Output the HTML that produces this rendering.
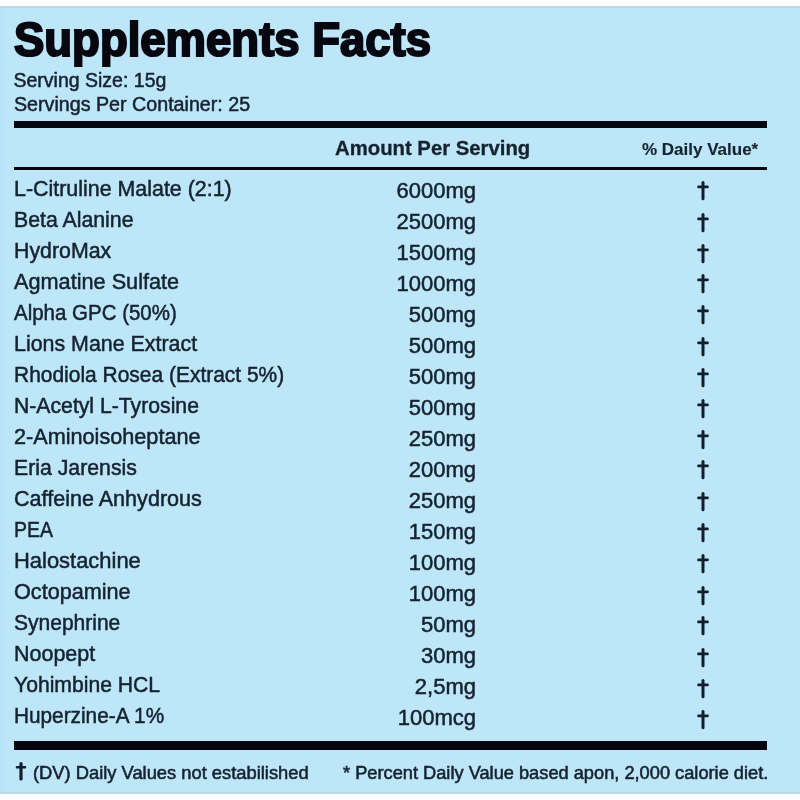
<!DOCTYPE html>
<html><head><meta charset="utf-8"><style>
html,body{margin:0;padding:0;}
body{width:800px;height:800px;position:relative;overflow:hidden;background:#fff;font-family:"Liberation Sans",sans-serif;}
#bg{position:absolute;left:0;top:6px;width:800px;height:788px;background:#bde6f9;}
#lb{position:absolute;left:0;top:6px;width:9px;height:788px;background:linear-gradient(to right,#b7e2f8,#bde6f9);}
#tl{position:absolute;left:0;top:5.5px;width:800px;height:2px;background:#b9dde8;}
#bl{position:absolute;left:0;top:792px;width:800px;height:2px;background:#b9dde8;}
#wrap{position:absolute;left:0;top:0;width:800px;height:800px;filter:blur(0.4px);}
.t{position:absolute;white-space:nowrap;line-height:1;transform-origin:0 0;}
.bar{position:absolute;background:#05050f;}
.dg{position:absolute;}
</style></head><body>
<div id="bg"></div><div id="lb"></div><div id="tl"></div><div id="bl"></div><div id="wrap">
<div class="t" style="left:14.00px;top:15.67px;font-size:48px;font-weight:700;color:#07070f;transform:scaleX(0.9476);-webkit-text-stroke:2.2px #07070f;">Supplements Facts</div>
<div class="t" style="left:13.50px;top:71.49px;font-size:19.5px;font-weight:400;color:#15222f;transform:scaleX(1.0000);-webkit-text-stroke:0.5px #15222f;">Serving Size: 15g</div>
<div class="t" style="left:13.50px;top:95.49px;font-size:19.5px;font-weight:400;color:#15222f;transform:scaleX(1.0086);-webkit-text-stroke:0.5px #15222f;">Servings Per Container: 25</div>
<div class="t" style="left:334.50px;top:138.07px;font-size:20px;font-weight:700;color:#15222f;transform:scaleX(1.0157);-webkit-text-stroke:0.3px #15222f;">Amount Per Serving</div>
<div class="t" style="left:642.00px;top:140.61px;font-size:17px;font-weight:700;color:#15222f;transform:scaleX(1.0000);-webkit-text-stroke:0.15px #15222f;">% Daily Value*</div>
<div class="t" style="left:13.50px;top:178.18px;font-size:22px;font-weight:400;color:#15222f;transform:scaleX(0.9731);-webkit-text-stroke:0.5px #15222f;">L-Citruline Malate (2:1)</div>
<div class="t" style="right:324.00px;top:179.78px;font-size:22px;font-weight:400;color:#15222f;transform-origin:100% 0;transform:scaleX(1.0000);-webkit-text-stroke:0.5px #15222f;">6000mg</div>
<div class="t" style="left:13.50px;top:209.18px;font-size:22px;font-weight:400;color:#15222f;transform:scaleX(0.9674);-webkit-text-stroke:0.5px #15222f;">Beta Alanine</div>
<div class="t" style="right:324.00px;top:210.78px;font-size:22px;font-weight:400;color:#15222f;transform-origin:100% 0;transform:scaleX(1.0000);-webkit-text-stroke:0.5px #15222f;">2500mg</div>
<div class="t" style="left:13.50px;top:240.18px;font-size:22px;font-weight:400;color:#15222f;transform:scaleX(0.9701);-webkit-text-stroke:0.5px #15222f;">HydroMax</div>
<div class="t" style="right:324.00px;top:241.78px;font-size:22px;font-weight:400;color:#15222f;transform-origin:100% 0;transform:scaleX(1.0000);-webkit-text-stroke:0.5px #15222f;">1500mg</div>
<div class="t" style="left:13.50px;top:271.18px;font-size:22px;font-weight:400;color:#15222f;transform:scaleX(0.9856);-webkit-text-stroke:0.5px #15222f;">Agmatine Sulfate</div>
<div class="t" style="right:324.00px;top:272.78px;font-size:22px;font-weight:400;color:#15222f;transform-origin:100% 0;transform:scaleX(1.0000);-webkit-text-stroke:0.5px #15222f;">1000mg</div>
<div class="t" style="left:13.50px;top:302.18px;font-size:22px;font-weight:400;color:#15222f;transform:scaleX(0.9309);-webkit-text-stroke:0.5px #15222f;">Alpha GPC (50%)</div>
<div class="t" style="right:324.00px;top:303.78px;font-size:22px;font-weight:400;color:#15222f;transform-origin:100% 0;transform:scaleX(1.0000);-webkit-text-stroke:0.5px #15222f;">500mg</div>
<div class="t" style="left:13.50px;top:333.18px;font-size:22px;font-weight:400;color:#15222f;transform:scaleX(0.9724);-webkit-text-stroke:0.5px #15222f;">Lions Mane Extract</div>
<div class="t" style="right:324.00px;top:334.78px;font-size:22px;font-weight:400;color:#15222f;transform-origin:100% 0;transform:scaleX(1.0000);-webkit-text-stroke:0.5px #15222f;">500mg</div>
<div class="t" style="left:13.50px;top:364.18px;font-size:22px;font-weight:400;color:#15222f;transform:scaleX(0.9526);-webkit-text-stroke:0.5px #15222f;">Rhodiola Rosea (Extract 5%)</div>
<div class="t" style="right:324.00px;top:365.78px;font-size:22px;font-weight:400;color:#15222f;transform-origin:100% 0;transform:scaleX(1.0000);-webkit-text-stroke:0.5px #15222f;">500mg</div>
<div class="t" style="left:13.50px;top:395.18px;font-size:22px;font-weight:400;color:#15222f;transform:scaleX(0.9634);-webkit-text-stroke:0.5px #15222f;">N-Acetyl L-Tyrosine</div>
<div class="t" style="right:324.00px;top:396.78px;font-size:22px;font-weight:400;color:#15222f;transform-origin:100% 0;transform:scaleX(1.0000);-webkit-text-stroke:0.5px #15222f;">500mg</div>
<div class="t" style="left:13.50px;top:426.18px;font-size:22px;font-weight:400;color:#15222f;transform:scaleX(0.9841);-webkit-text-stroke:0.5px #15222f;">2-Aminoisoheptane</div>
<div class="t" style="right:324.00px;top:427.78px;font-size:22px;font-weight:400;color:#15222f;transform-origin:100% 0;transform:scaleX(1.0000);-webkit-text-stroke:0.5px #15222f;">250mg</div>
<div class="t" style="left:13.50px;top:457.18px;font-size:22px;font-weight:400;color:#15222f;transform:scaleX(0.9669);-webkit-text-stroke:0.5px #15222f;">Eria Jarensis</div>
<div class="t" style="right:324.00px;top:458.78px;font-size:22px;font-weight:400;color:#15222f;transform-origin:100% 0;transform:scaleX(1.0000);-webkit-text-stroke:0.5px #15222f;">200mg</div>
<div class="t" style="left:13.50px;top:488.18px;font-size:22px;font-weight:400;color:#15222f;transform:scaleX(0.9802);-webkit-text-stroke:0.5px #15222f;">Caffeine Anhydrous</div>
<div class="t" style="right:324.00px;top:489.78px;font-size:22px;font-weight:400;color:#15222f;transform-origin:100% 0;transform:scaleX(1.0000);-webkit-text-stroke:0.5px #15222f;">250mg</div>
<div class="t" style="left:13.50px;top:519.18px;font-size:22px;font-weight:400;color:#15222f;transform:scaleX(0.8837);-webkit-text-stroke:0.5px #15222f;">PEA</div>
<div class="t" style="right:324.00px;top:520.78px;font-size:22px;font-weight:400;color:#15222f;transform-origin:100% 0;transform:scaleX(1.0000);-webkit-text-stroke:0.5px #15222f;">150mg</div>
<div class="t" style="left:13.50px;top:550.18px;font-size:22px;font-weight:400;color:#15222f;transform:scaleX(0.9969);-webkit-text-stroke:0.5px #15222f;">Halostachine</div>
<div class="t" style="right:324.00px;top:551.78px;font-size:22px;font-weight:400;color:#15222f;transform-origin:100% 0;transform:scaleX(1.0000);-webkit-text-stroke:0.5px #15222f;">100mg</div>
<div class="t" style="left:13.50px;top:581.18px;font-size:22px;font-weight:400;color:#15222f;transform:scaleX(0.9831);-webkit-text-stroke:0.5px #15222f;">Octopamine</div>
<div class="t" style="right:324.00px;top:582.78px;font-size:22px;font-weight:400;color:#15222f;transform-origin:100% 0;transform:scaleX(1.0000);-webkit-text-stroke:0.5px #15222f;">100mg</div>
<div class="t" style="left:13.50px;top:612.18px;font-size:22px;font-weight:400;color:#15222f;transform:scaleX(0.9548);-webkit-text-stroke:0.5px #15222f;">Synephrine</div>
<div class="t" style="right:324.00px;top:613.78px;font-size:22px;font-weight:400;color:#15222f;transform-origin:100% 0;transform:scaleX(1.0000);-webkit-text-stroke:0.5px #15222f;">50mg</div>
<div class="t" style="left:13.50px;top:643.18px;font-size:22px;font-weight:400;color:#15222f;transform:scaleX(0.9765);-webkit-text-stroke:0.5px #15222f;">Noopept</div>
<div class="t" style="right:324.00px;top:644.78px;font-size:22px;font-weight:400;color:#15222f;transform-origin:100% 0;transform:scaleX(1.0000);-webkit-text-stroke:0.5px #15222f;">30mg</div>
<div class="t" style="left:13.50px;top:674.18px;font-size:22px;font-weight:400;color:#15222f;transform:scaleX(0.9604);-webkit-text-stroke:0.5px #15222f;">Yohimbine HCL</div>
<div class="t" style="right:324.00px;top:675.78px;font-size:22px;font-weight:400;color:#15222f;transform-origin:100% 0;transform:scaleX(1.0000);-webkit-text-stroke:0.5px #15222f;">2,5mg</div>
<div class="t" style="left:13.50px;top:705.18px;font-size:22px;font-weight:400;color:#15222f;transform:scaleX(0.9445);-webkit-text-stroke:0.5px #15222f;">Huperzine-A 1%</div>
<div class="t" style="right:324.00px;top:706.78px;font-size:22px;font-weight:400;color:#15222f;transform-origin:100% 0;transform:scaleX(1.0000);-webkit-text-stroke:0.5px #15222f;">100mcg</div>
<div class="t" style="left:33.00px;top:763.59px;font-size:18.2px;font-weight:400;color:#15222f;transform:scaleX(1.0074);-webkit-text-stroke:0.55px #15222f;">(DV) Daily Values not estabilished</div>
<div class="t" style="left:343.00px;top:763.59px;font-size:18.2px;font-weight:400;color:#15222f;transform:scaleX(1.0024);-webkit-text-stroke:0.55px #15222f;">* Percent Daily Value based apon, 2,000 calorie diet.</div>
<div class="bar" style="left:14px;top:121px;width:753px;height:7px"></div>
<div class="bar" style="left:14px;top:166.5px;width:753px;height:3.5px"></div>
<div class="bar" style="left:14px;top:741px;width:753px;height:9px"></div>
<svg class="dg" style="left:695px;top:180.4px" width="16" height="21.2" viewBox="0 0 16 21.2"><rect x="6.5" y="1" width="3.0" height="19.2" rx="1.5" fill="#121e2b"/><rect x="2.25" y="5.5" width="11.5" height="2.7" rx="1" fill="#121e2b"/></svg>
<svg class="dg" style="left:695px;top:211.5px" width="16" height="21.2" viewBox="0 0 16 21.2"><rect x="6.5" y="1" width="3.0" height="19.2" rx="1.5" fill="#121e2b"/><rect x="2.25" y="5.5" width="11.5" height="2.7" rx="1" fill="#121e2b"/></svg>
<svg class="dg" style="left:695px;top:242.75px" width="16" height="21.2" viewBox="0 0 16 21.2"><rect x="6.5" y="1" width="3.0" height="19.2" rx="1.5" fill="#121e2b"/><rect x="2.25" y="5.5" width="11.5" height="2.7" rx="1" fill="#121e2b"/></svg>
<svg class="dg" style="left:695px;top:273.4px" width="16" height="21.2" viewBox="0 0 16 21.2"><rect x="6.5" y="1" width="3.0" height="19.2" rx="1.5" fill="#121e2b"/><rect x="2.25" y="5.5" width="11.5" height="2.7" rx="1" fill="#121e2b"/></svg>
<svg class="dg" style="left:695px;top:304.25px" width="16" height="21.2" viewBox="0 0 16 21.2"><rect x="6.5" y="1" width="3.0" height="19.2" rx="1.5" fill="#121e2b"/><rect x="2.25" y="5.5" width="11.5" height="2.7" rx="1" fill="#121e2b"/></svg>
<svg class="dg" style="left:695px;top:335.9px" width="16" height="21.2" viewBox="0 0 16 21.2"><rect x="6.5" y="1" width="3.0" height="19.2" rx="1.5" fill="#121e2b"/><rect x="2.25" y="5.5" width="11.5" height="2.7" rx="1" fill="#121e2b"/></svg>
<svg class="dg" style="left:695px;top:366.5px" width="16" height="21.2" viewBox="0 0 16 21.2"><rect x="6.5" y="1" width="3.0" height="19.2" rx="1.5" fill="#121e2b"/><rect x="2.25" y="5.5" width="11.5" height="2.7" rx="1" fill="#121e2b"/></svg>
<svg class="dg" style="left:695px;top:397.75px" width="16" height="21.2" viewBox="0 0 16 21.2"><rect x="6.5" y="1" width="3.0" height="19.2" rx="1.5" fill="#121e2b"/><rect x="2.25" y="5.5" width="11.5" height="2.7" rx="1" fill="#121e2b"/></svg>
<svg class="dg" style="left:695px;top:429px" width="16" height="21.2" viewBox="0 0 16 21.2"><rect x="6.5" y="1" width="3.0" height="19.2" rx="1.5" fill="#121e2b"/><rect x="2.25" y="5.5" width="11.5" height="2.7" rx="1" fill="#121e2b"/></svg>
<svg class="dg" style="left:695px;top:459.4px" width="16" height="21.2" viewBox="0 0 16 21.2"><rect x="6.5" y="1" width="3.0" height="19.2" rx="1.5" fill="#121e2b"/><rect x="2.25" y="5.5" width="11.5" height="2.7" rx="1" fill="#121e2b"/></svg>
<svg class="dg" style="left:695px;top:490.9px" width="16" height="21.2" viewBox="0 0 16 21.2"><rect x="6.5" y="1" width="3.0" height="19.2" rx="1.5" fill="#121e2b"/><rect x="2.25" y="5.5" width="11.5" height="2.7" rx="1" fill="#121e2b"/></svg>
<svg class="dg" style="left:695px;top:522px" width="16" height="21.2" viewBox="0 0 16 21.2"><rect x="6.5" y="1" width="3.0" height="19.2" rx="1.5" fill="#121e2b"/><rect x="2.25" y="5.5" width="11.5" height="2.7" rx="1" fill="#121e2b"/></svg>
<svg class="dg" style="left:695px;top:552.9px" width="16" height="21.2" viewBox="0 0 16 21.2"><rect x="6.5" y="1" width="3.0" height="19.2" rx="1.5" fill="#121e2b"/><rect x="2.25" y="5.5" width="11.5" height="2.7" rx="1" fill="#121e2b"/></svg>
<svg class="dg" style="left:695px;top:584.6px" width="16" height="21.2" viewBox="0 0 16 21.2"><rect x="6.5" y="1" width="3.0" height="19.2" rx="1.5" fill="#121e2b"/><rect x="2.25" y="5.5" width="11.5" height="2.7" rx="1" fill="#121e2b"/></svg>
<svg class="dg" style="left:695px;top:615.25px" width="16" height="21.2" viewBox="0 0 16 21.2"><rect x="6.5" y="1" width="3.0" height="19.2" rx="1.5" fill="#121e2b"/><rect x="2.25" y="5.5" width="11.5" height="2.7" rx="1" fill="#121e2b"/></svg>
<svg class="dg" style="left:695px;top:646.5px" width="16" height="21.2" viewBox="0 0 16 21.2"><rect x="6.5" y="1" width="3.0" height="19.2" rx="1.5" fill="#121e2b"/><rect x="2.25" y="5.5" width="11.5" height="2.7" rx="1" fill="#121e2b"/></svg>
<svg class="dg" style="left:695px;top:678.4px" width="16" height="21.2" viewBox="0 0 16 21.2"><rect x="6.5" y="1" width="3.0" height="19.2" rx="1.5" fill="#121e2b"/><rect x="2.25" y="5.5" width="11.5" height="2.7" rx="1" fill="#121e2b"/></svg>
<svg class="dg" style="left:695px;top:709px" width="16" height="21.2" viewBox="0 0 16 21.2"><rect x="6.5" y="1" width="3.0" height="19.2" rx="1.5" fill="#121e2b"/><rect x="2.25" y="5.5" width="11.5" height="2.7" rx="1" fill="#121e2b"/></svg>
<svg class="dg" style="left:13.100000000000001px;top:760.5px" width="16" height="20.5" viewBox="0 0 16 20.5"><rect x="6.4" y="1" width="3.2" height="18.5" rx="1.6" fill="#121e2b"/><rect x="2.75" y="5.0" width="10.5" height="2.6" rx="1" fill="#121e2b"/></svg>
</div></body></html>
